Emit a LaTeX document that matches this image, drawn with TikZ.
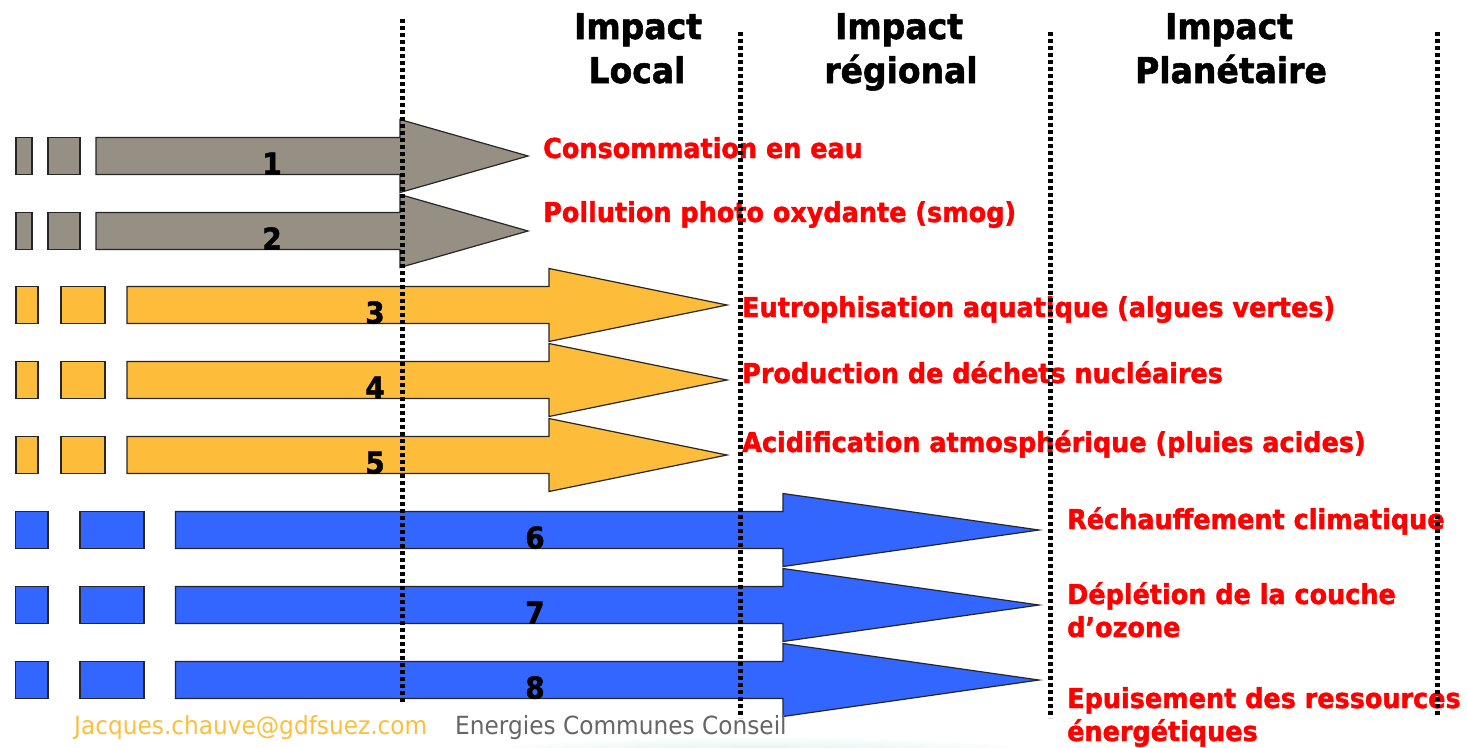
\documentclass[tikz,border=0pt]{standalone}
\usepackage{fontspec}
\setmainfont{DejaVu Sans}[FakeStretch=0.93, BoldFeatures={FakeBold=1.5}]
\definecolor{arrgray}{HTML}{959083}
\definecolor{arryel}{HTML}{FDBC3A}
\definecolor{arrblue}{HTML}{3366FF}
\definecolor{labred}{HTML}{FF0000}
\definecolor{mailorange}{HTML}{FDBF3B}
\definecolor{footgray}{HTML}{666666}
\definecolor{glowteal}{HTML}{BFE3DC}
\tikzset{
 arr/.style={draw=black!85, line width=1.2pt, line join=miter},
 dotline/.style={line width=5pt, dash pattern=on 4pt off 3pt},
 lab/.style={text=labred, font=\bfseries\fontsize{27.4}{33}\selectfont, anchor=base west, inner sep=0pt},
 hdr/.style={font=\bfseries\fontsize{35.5}{44}\selectfont, anchor=base, inner sep=0pt},
 num/.style={font=\bfseries\fontsize{30}{36}\selectfont, anchor=base, inner sep=0pt},
 foot/.style={font=\fontsize{25}{30}\selectfont, anchor=base west, inner sep=0pt},
}
\newcommand\impactarrow[9]{%
 \filldraw[arr, fill=#1] (#3,#2-18.5) rectangle (#4,#2+18.5);
 \filldraw[arr, fill=#1] (#5,#2-18.5) rectangle (#6,#2+18.5);
 \filldraw[arr, fill=#1] (#7,#2-18.5) -- (#8,#2-18.5) -- (#8,#2-36.5) -- (#9,#2)
   -- (#8,#2+36.5) -- (#8,#2+18.5) -- (#7,#2+18.5) -- cycle;
}
\begin{document}
\begin{tikzpicture}[x=1pt,y=-1pt]
\useasboundingbox (0,0) rectangle (1467,747);
\clip (0,0) rectangle (1467,747);
\fill[white] (0,0) rectangle (1467,747);
% bottom glow
\shade[inner color=glowteal, outer color=white] (760,768) ellipse (380 and 32);
% arrows
\impactarrow{arrgray}{156}{16}{32}{48}{80}{96}{400}{528}
\impactarrow{arrgray}{231}{16}{32}{48}{80}{96}{400}{528}
\impactarrow{arryel}{305}{16}{38}{61}{105}{127}{549}{727}
\impactarrow{arryel}{380}{16}{38}{61}{105}{127}{549}{727}
\impactarrow{arryel}{455}{16}{38}{61}{105}{127}{549}{727}
\impactarrow{arrblue}{530}{15.5}{48}{80}{144}{175.5}{783}{1039}
\impactarrow{arrblue}{605}{15.5}{48}{80}{144}{175.5}{783}{1039}
\impactarrow{arrblue}{680}{15.5}{48}{80}{144}{175.5}{783}{1039}
% numbers
\node[num] (n1) at (272,174.5) {1};
\node[num] (n2) at (272,249.5) {2};
\node[num] (n3) at (375,323.5) {3};
\node[num] (n4) at (375,398.5) {4};
\node[num] (n5) at (375,473.5) {5};
\node[num] (n6) at (535,548.5) {6};
\node[num] (n7) at (535,623.5) {7};
\node[num] (n8) at (535,698.5) {8};
% headers
\node[hdr] (h1a) at (638,39) {Impact};
\node[hdr] (h1b) at (637,83) {Local};
\node[hdr] (h2a) at (899,39) {Impact};
\node[hdr] (h2b) at (901,83) {régional};
\node[hdr] (h3a) at (1229,39) {Impact};
\node[hdr] (h3b) at (1231,83) {Planétaire};
% labels
\node[lab] (l1) at (543,158) {Consommation en eau};
\node[lab] (l2) at (543,222) {Pollution photo oxydante (smog)};
\node[lab] (l3) at (742,317) {Eutrophisation aquatique (algues vertes)};
\node[lab] (l4) at (742,383) {Production de déchets nucléaires};
\node[lab] (l5) at (742,452) {Acidification atmosphérique (pluies acides)};
\node[lab] (l6) at (1067,529) {Réchauffement climatique};
\node[lab] (l7a) at (1067,604) {Déplétion de la couche};
\node[lab] (l7b) at (1067,637) {d’ozone};
\node[lab] (l8a) at (1067,708) {Epuisement des ressources};
\node[lab] (l8b) at (1067,741) {énergétiques};
% footer
\node[foot, text=mailorange] (mail) at (74,734) {Jacques.chauve@gdfsuez.com};
\node[foot, text=footgray] (firm) at (455,734) {Energies Communes Conseil};
% dotted separators
\coordinate (d1t) at (402,19);  \coordinate (d1b) at (402,704);
\coordinate (d2t) at (740,32);  \coordinate (d2b) at (740,718);
\coordinate (d3t) at (1050,32); \coordinate (d3b) at (1050,718);
\coordinate (d4t) at (1437,32); \coordinate (d4b) at (1437,716);
\draw[dotline] (d1t) -- (d1b);
\draw[dotline] (d2t) -- (d2b);
\draw[dotline] (d3t) -- (d3b);
\draw[dotline] (d4t) -- (d4b);
\end{tikzpicture}
\end{document}
